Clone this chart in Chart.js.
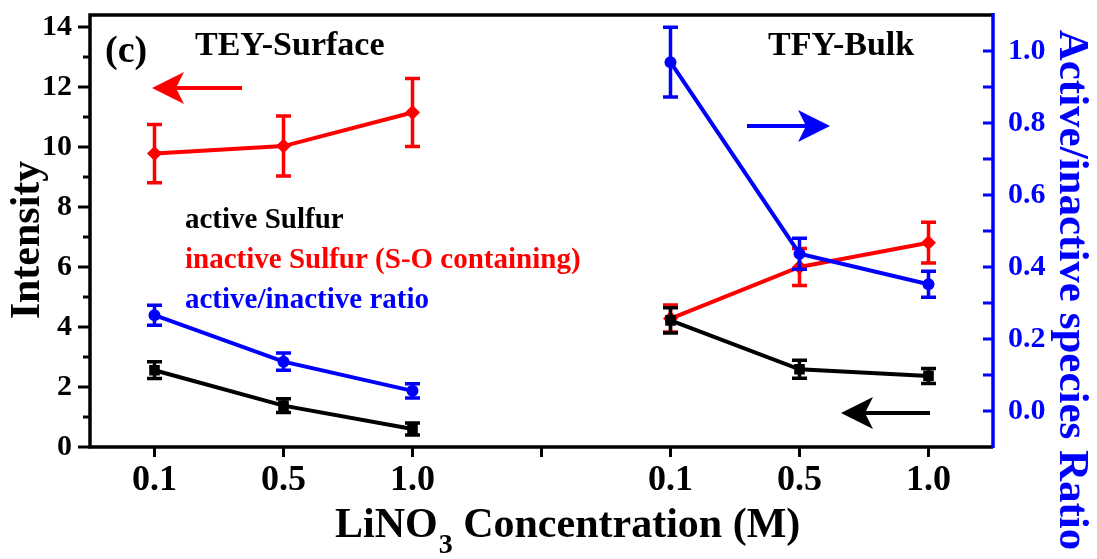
<!DOCTYPE html>
<html>
<head>
<meta charset="utf-8">
<title>LiNO3 concentration vs sulfur species</title>
<script src="https://cdn.jsdelivr.net/npm/chart.js@4.4.1/dist/chart.umd.min.js"></script>
<style>
  html, body { margin: 0; padding: 0; background: #fff; }
  #wrap { width: 1097px; height: 559px; }
</style>
</head>
<body>
<div id="wrap"><canvas id="chart" width="1097" height="559"></canvas></div>
<script>
// x labels: TEY panel, empty slot, TFY panel
const concLabels = ['0.1', '0.5', '1.0', '', '0.1', '0.5', '1.0'];

// active sulfur (left axis)
const activeSulfur = [2.56, 1.38, 0.6, null, 4.22, 2.59, 2.37];
const activeErr = [0.28, 0.23, 0.2, null, 0.42, 0.3, 0.25];

// inactive sulfur, S-O containing (left axis)
const inactiveSulfur = [9.78, 10.03, 11.15, null, 4.28, 6.0, 6.81];
const inactiveErr = [0.97, 1.0, 1.13, null, 0.45, 0.62, 0.68];

// active/inactive ratio (right axis)
const ratio = [0.266, 0.137, 0.056, null, 0.969, 0.437, 0.352];
const ratioErr = [0.028, 0.024, 0.02, null, 0.097, 0.043, 0.036];

// axis ticks
const intensityTicks = [0, 2, 4, 6, 8, 10, 12, 14];
const ratioTicks = [0, 0.2, 0.4, 0.6, 0.8, 1.0];

const FONT = '"Liberation Serif", "Times New Roman", serif';
const RED = '#ff0000';
const BLUE = '#0000ff';
const BLACK = '#000000';

function setFont(ctx, size) {
    ctx.font = 'bold ' + size + 'px ' + FONT;
}

// Error bars, drawn right after each dataset so layering follows the datasets
const errorBars = {
    id: 'errorBars',
    afterDatasetDraw(chart, args) {
        const ds = chart.data.datasets[args.index];
        if (!ds.errors) return;
        const yScale = chart.scales[ds.yAxisID];
        const ctx = chart.ctx;
        ctx.save();
        ctx.strokeStyle = ds.borderColor;
        ctx.lineWidth = 3.5;
        args.meta.data.forEach((pt, i) => {
            const v = ds.data[i];
            const e = ds.errors[i];
            if (v == null || e == null) return;
            const yTop = yScale.getPixelForValue(v + e);
            const yBot = yScale.getPixelForValue(v - e);
            ctx.beginPath();
            ctx.moveTo(pt.x, yTop);
            ctx.lineTo(pt.x, yBot);
            ctx.moveTo(pt.x - 7.5, yTop);
            ctx.lineTo(pt.x + 7.5, yTop);
            ctx.moveTo(pt.x - 7.5, yBot);
            ctx.lineTo(pt.x + 7.5, yBot);
            ctx.stroke();
        });
        ctx.restore();
    }
};

// Frame, axis lines and tick marks (left/bottom outward, right inward)
const axesFrame = {
    id: 'axesFrame',
    afterDraw(chart) {
        const ctx = chart.ctx;
        const { left, right, top, bottom } = chart.chartArea;
        const xS = chart.scales.x;
        const yL = chart.scales.y;
        const yR = chart.scales.y1;
        ctx.save();
        ctx.lineCap = 'butt';
        ctx.lineWidth = 3.5;
        ctx.strokeStyle = BLACK;
        ctx.beginPath();
        ctx.moveTo(right, top);
        ctx.lineTo(left, top);
        ctx.lineTo(left, bottom);
        ctx.lineTo(right, bottom);
        ctx.stroke();

        ctx.lineWidth = 3;
        ctx.beginPath();
        intensityTicks.forEach((v, i) => {
            const y = yL.getPixelForValue(v);
            ctx.moveTo(left - 12, y);
            ctx.lineTo(left, y);
            if (i < intensityTicks.length - 1) {
                const ym = yL.getPixelForValue((v + intensityTicks[i + 1]) / 2);
                ctx.moveTo(left - 7, ym);
                ctx.lineTo(left, ym);
            }
        });
        concLabels.forEach((_, i) => {
            const x = xS.getPixelForValue(i);
            ctx.moveTo(x, bottom);
            ctx.lineTo(x, bottom + 10);
        });
        ctx.stroke();

        ctx.strokeStyle = BLUE;
        ctx.lineWidth = 3.5;
        ctx.beginPath();
        ctx.moveTo(right, top - 2);
        ctx.lineTo(right, bottom + 1);
        ctx.stroke();
        ctx.lineWidth = 3;
        ctx.beginPath();
        ratioTicks.forEach((v, i) => {
            const y = yR.getPixelForValue(v);
            ctx.moveTo(right - 10, y);
            ctx.lineTo(right, y);
            if (i < ratioTicks.length - 1) {
                const ym = yR.getPixelForValue((v + ratioTicks[i + 1]) / 2);
                ctx.moveTo(right - 10, ym);
                ctx.lineTo(right, ym);
            }
        });
        ctx.stroke();
        ctx.restore();
    }
};

function drawArrow(ctx, tail, tip, y, color) {
    const dir = Math.sign(tip - tail);
    const headLen = 32, half = 16, notch = 8;
    ctx.strokeStyle = color;
    ctx.fillStyle = color;
    ctx.lineWidth = 4;
    ctx.beginPath();
    ctx.moveTo(tail, y);
    ctx.lineTo(tip - dir * headLen / 2, y);
    ctx.stroke();
    ctx.beginPath();
    ctx.moveTo(tip, y);
    ctx.lineTo(tip - dir * headLen, y - half);
    ctx.lineTo(tip - dir * (headLen - notch), y);
    ctx.lineTo(tip - dir * headLen, y + half);
    ctx.closePath();
    ctx.fill();
}

// Panel labels, in-plot legend, arrows and axis titles
const annotations = {
    id: 'annotations',
    afterDraw(chart) {
        const ctx = chart.ctx;
        ctx.save();
        ctx.textBaseline = 'alphabetic';
        ctx.textAlign = 'left';

        ctx.fillStyle = BLACK;
        setFont(ctx, 38);
        ctx.fillText('(c)', 105, 62);
        setFont(ctx, 34);
        ctx.fillText('TEY-Surface', 195, 55);
        ctx.fillText('TFY-Bulk', 768, 55);

        setFont(ctx, 29);
        ctx.fillStyle = BLACK;
        ctx.fillText('active Sulfur', 185, 228);
        ctx.fillStyle = RED;
        ctx.fillText('inactive Sulfur (S-O containing)', 185, 268);
        ctx.fillStyle = BLUE;
        ctx.fillText('active/inactive ratio', 185, 308);

        drawArrow(ctx, 242, 152, 88, RED);
        drawArrow(ctx, 747, 830, 126, BLUE);
        drawArrow(ctx, 930, 841, 413, BLACK);

        // x title with subscript
        ctx.fillStyle = BLACK;
        let x = 335;
        const base = 537;
        setFont(ctx, 42);
        ctx.fillText('LiNO', x, base);
        x += ctx.measureText('LiNO').width + 1;
        setFont(ctx, 28);
        ctx.fillText('3', x, base + 16);
        x += ctx.measureText('3').width;
        setFont(ctx, 42);
        ctx.fillText(' Concentration (M)', x, base);

        // left title
        ctx.save();
        ctx.translate(39, 240);
        ctx.rotate(-Math.PI / 2);
        ctx.textAlign = 'center';
        setFont(ctx, 42);
        ctx.fillStyle = BLACK;
        ctx.fillText('Intensity', 0, 0);
        ctx.restore();

        // right title
        ctx.save();
        ctx.translate(1060, 290);
        ctx.rotate(Math.PI / 2);
        ctx.textAlign = 'center';
        setFont(ctx, 43);
        ctx.fillStyle = BLUE;
        ctx.fillText('Active/inactive species Ratio', 0, 0);
        ctx.restore();

        ctx.restore();
    }
};

const ctx = document.getElementById('chart').getContext('2d');
new Chart(ctx, {
    type: 'line',
    data: {
        labels: concLabels,
        datasets: [
            {
                label: 'active Sulfur',
                data: activeSulfur,
                errors: activeErr,
                yAxisID: 'y',
                borderColor: BLACK,
                backgroundColor: BLACK,
                borderWidth: 4,
                pointStyle: 'rect',
                pointRadius: 7.5,
                pointBorderWidth: 0
            },
            {
                label: 'active/inactive ratio',
                data: ratio,
                errors: ratioErr,
                yAxisID: 'y1',
                borderColor: BLUE,
                backgroundColor: BLUE,
                borderWidth: 4,
                pointStyle: 'circle',
                pointRadius: 6,
                pointBorderWidth: 0
            },
            {
                label: 'inactive Sulfur (S-O containing)',
                data: inactiveSulfur,
                errors: inactiveErr,
                yAxisID: 'y',
                borderColor: RED,
                backgroundColor: RED,
                borderWidth: 4,
                pointStyle: 'rectRot',
                pointRadius: 7.5,
                pointBorderWidth: 0
            }
        ]
    },
    options: {
        responsive: false,
        animation: false,
        layout: { padding: { top: 15, left: 0, right: 0, bottom: 0 } },
        plugins: {
            legend: { display: false },
            tooltip: { enabled: false }
        },
        scales: {
            x: {
                type: 'category',
                offset: true,
                grid: { display: false, drawTicks: false },
                border: { display: false },
                ticks: {
                    color: BLACK,
                    font: { family: FONT, size: 36, weight: 'bold' },
                    padding: 12,
                    maxRotation: 0,
                    autoSkip: false
                },
                afterFit(s) {
                    s.height = 112;
                    s.paddingLeft = 0;
                    s.paddingRight = 0;
                }
            },
            y: {
                position: 'left',
                min: 0,
                max: 14.4,
                grid: { display: false, drawTicks: false },
                border: { display: false },
                afterBuildTicks(s) {
                    s.ticks = intensityTicks.map(v => ({ value: v }));
                },
                ticks: {
                    color: BLACK,
                    font: { family: FONT, size: 30, weight: 'bold' },
                    padding: 18,
                    autoSkip: false,
                    callback: v => String(v)
                },
                afterFit(s) {
                    s.width = 90;
                    s.paddingTop = 0;
                    s.paddingBottom = 0;
                }
            },
            y1: {
                position: 'right',
                min: -0.1,
                max: 1.1,
                grid: { display: false, drawTicks: false },
                border: { display: false },
                afterBuildTicks(s) {
                    s.ticks = ratioTicks.map(v => ({ value: v }));
                },
                ticks: {
                    color: BLUE,
                    font: { family: FONT, size: 30, weight: 'bold' },
                    padding: 15,
                    autoSkip: false,
                    callback: v => Number(v).toFixed(1)
                },
                afterFit(s) {
                    s.width = 104;
                    s.paddingTop = 0;
                    s.paddingBottom = 0;
                }
            }
        }
    },
    plugins: [errorBars, axesFrame, annotations]
});
</script>
</body>
</html>
